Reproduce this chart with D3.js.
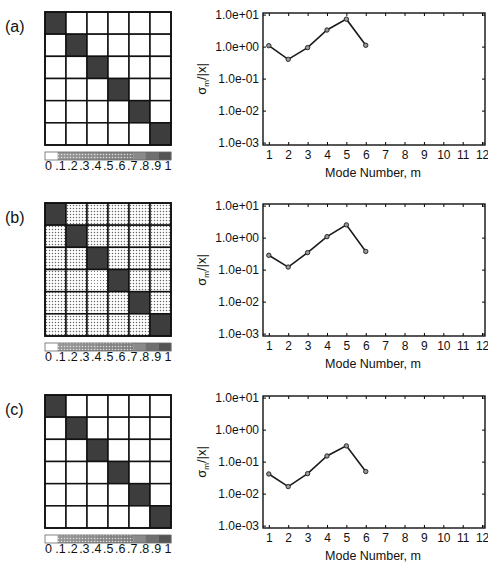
<!DOCTYPE html>
<html>
<head>
<meta charset="utf-8">
<script src="https://cdn.jsdelivr.net/npm/d3@7"></script>
<style>
  body { margin: 0; background: #fff; }
  text { font-family: "Liberation Sans", Arial, sans-serif; fill: #111; }
</style>
</head>
<body>
<script>
// values
var modes = [1, 2, 3, 4, 5, 6];
var sigmaA = [1.07, 0.40, 0.93, 3.3, 7.2, 1.1];
var sigmaB = [0.28, 0.12, 0.34, 1.07, 2.5, 0.37];
var sigmaC = [0.041, 0.0166, 0.042, 0.15, 0.31, 0.049];

var xTicks = [1, 2, 3, 4, 5, 6, 7, 8, 9, 10, 11, 12];
var yTicks = [1e-3, 1e-2, 1e-1, 1, 10];
var barTicks = [0, 0.1, 0.2, 0.3, 0.4, 0.5, 0.6, 0.7, 0.8, 0.9, 1];
var barLabels = ["0", ".1", ".2", ".3", ".4", ".5", ".6", ".7", ".8", ".9", "1"];
var panelNames = ["(a)", "(b)", "(c)"];

var matrixA = [
  [1, 0, 0, 0, 0, 0],
  [0, 1, 0, 0, 0, 0],
  [0, 0, 1, 0, 0, 0],
  [0, 0, 0, 1, 0, 0],
  [0, 0, 0, 0, 1, 0],
  [0, 0, 0, 0, 0, 1]
];
var matrixB = [
  [1, .25, .28, .27, .25, .27],
  [.25, 1, .27, .26, .24, .27],
  [.28, .27, 1, .22, .26, .27],
  [.27, .26, .18, 1, .20, .26],
  [.25, .26, .26, .22, 1, .21],
  [.26, .27, .26, .25, .20, 1]
];
var matrixC = [
  [1, .01, 0, 0, .01, 0],
  [.01, 1, .01, 0, 0, 0],
  [0, .01, 1, .01, 0, 0],
  [0, 0, .01, 1, .01, 0],
  [.01, 0, 0, .01, 1, .01],
  [0, 0, 0, 0, .01, 1]
];

var panels = [
  {name: panelNames[0], sigma: sigmaA, matrix: matrixA},
  {name: panelNames[1], sigma: sigmaB, matrix: matrixB},
  {name: panelNames[2], sigma: sigmaC, matrix: matrixC}
];

var W = 488, H = 562;
var panelTops = [13, 204, 396];
var boxH = 132;
var boxL = 263, boxR = 485;
var matL = 45, matR = 171;

var svg = d3.select("body").append("svg")
    .attr("width", W)
    .attr("height", H);

var defs = svg.append("defs");

// stipple patterns for the matrix cells, one per tenth
var bins = d3.range(10);
bins.forEach(function(b) {
  var v = (b + 0.5) / 10;
  var p = defs.append("pattern")
      .attr("id", "stip" + b)
      .attr("patternUnits", "userSpaceOnUse")
      .attr("width", 3)
      .attr("height", 3);
  p.append("rect").attr("width", 3).attr("height", 3).attr("fill", "#fff");
  p.append("circle")
      .attr("cx", 1.5).attr("cy", 1.5)
      .attr("r", Math.min(1.7, 3 * Math.sqrt(v / Math.PI) * 0.85))
      .attr("fill", "#666");
});
// colour-bar stipple: grey ground with light dots
bins.forEach(function(b) {
  var p = defs.append("pattern")
      .attr("id", "bar" + b)
      .attr("patternUnits", "userSpaceOnUse")
      .attr("width", 3)
      .attr("height", 3);
  p.append("rect").attr("width", 3).attr("height", 3)
      .attr("fill", d3.interpolateRgb("#9a9a9a", "#707070")(b / 9));
  p.append("circle")
      .attr("cx", 1.5).attr("cy", 1.5).attr("r", 0.8)
      .attr("fill", "#ddd");
});

function cellFill(v) {
  if (v < 0.05) return "#fff";
  if (v >= 0.95) return "#3d3d3d";
  if (v >= 0.7) return d3.interpolateRgb("#9a9a9a", "#4a4a4a")((v - 0.7) / 0.25);
  return "url(#stip" + Math.floor(v * 10) + ")";
}

function barFill(b) {
  if (b === 0) return "#fff";
  if (b >= 7) return d3.interpolateRgb("#8a8a8a", "#555")((b - 7) / 2);
  return "url(#bar" + b + ")";
}

function fmtExp(v) {
  var e = Math.round(Math.log10(v));
  var a = Math.abs(e);
  return "1.0e" + (e < 0 ? "-" : "+") + (a < 10 ? "0" : "") + a;
}

var x = d3.scaleLinear().domain([0.7, 12.15]).range([boxL, boxR]);

panels.forEach(function(pn, i) {
  var top = panelTops[i];
  var bottom = top + boxH;
  var g = svg.append("g");

  // panel letter
  g.append("text")
      .attr("x", 5)
      .attr("y", top + 19)
      .attr("font-size", 16)
      .text(pn.name);

  // correlation matrix
  var n = pn.matrix.length;
  var cx = d3.scaleBand().domain(d3.range(n)).range([matL, matR]);
  var cy = d3.scaleBand().domain(d3.range(n)).range([top - 1, bottom]);
  var cells = [];
  pn.matrix.forEach(function(row, r) {
    row.forEach(function(v, c) { cells.push({r: r, c: c, v: v}); });
  });
  g.selectAll(".cell").data(cells).enter().append("rect")
      .attr("x", function(d) { return cx(d.c); })
      .attr("y", function(d) { return cy(d.r); })
      .attr("width", cx.bandwidth())
      .attr("height", cy.bandwidth())
      .attr("fill", function(d) { return cellFill(d.v); })
      .attr("stroke", "#111")
      .attr("stroke-width", 1.5);
  g.append("rect")
      .attr("x", matL).attr("y", top - 1)
      .attr("width", matR - matL).attr("height", bottom - top + 1)
      .attr("fill", "none").attr("stroke", "#111").attr("stroke-width", 1.7);

  // colour bar
  var bx = d3.scaleLinear().domain([0, 1]).range([matL, matR]);
  g.selectAll(".seg").data(bins).enter().append("rect")
      .attr("x", function(b) { return bx(b / 10); })
      .attr("y", bottom + 7)
      .attr("width", bx(0.1) - bx(0) + 0.3)
      .attr("height", 8)
      .attr("fill", barFill);
  g.append("rect")
      .attr("x", matL).attr("y", bottom + 7)
      .attr("width", matR - matL).attr("height", 8)
      .attr("fill", "none").attr("stroke", "#666").attr("stroke-width", 0.8);

  var lx = d3.scaleLinear().domain([0, 1]).range([48.5, 168]);
  g.selectAll(".blab").data(barTicks).enter().append("text")
      .attr("x", function(d) { return lx(d); })
      .attr("y", bottom + 25)
      .attr("text-anchor", "middle")
      .attr("font-size", 12.5)
      .text(function(d, j) { return barLabels[j]; });

  // sigma plot
  var y = d3.scaleLog()
      .domain([Math.pow(10, -3.075), Math.pow(10, 1.05)])
      .range([bottom, top]);

  g.append("g")
      .attr("transform", "translate(" + boxL + ",0)")
      .call(d3.axisLeft(y).tickValues(yTicks).tickFormat(fmtExp).tickSize(-3).tickPadding(4))
      .call(function(a) {
        a.select(".domain").remove();
        a.selectAll("text").attr("font-size", 12).attr("fill", "#111")
            .style("font-family", "Liberation Sans, Arial, sans-serif");
      });
  g.append("g")
      .attr("transform", "translate(" + boxR + ",0)")
      .call(d3.axisRight(y).tickValues(yTicks).tickFormat("").tickSize(-3))
      .call(function(a) { a.select(".domain").remove(); });
  g.append("g")
      .attr("transform", "translate(0," + bottom + ")")
      .call(d3.axisBottom(x).tickValues(xTicks).tickFormat(d3.format("d")).tickSize(-3).tickPadding(5))
      .call(function(a) {
        a.select(".domain").remove();
        a.selectAll("text").attr("font-size", 12).attr("fill", "#111")
            .style("font-family", "Liberation Sans, Arial, sans-serif");
      });
  g.append("g")
      .attr("transform", "translate(0," + top + ")")
      .call(d3.axisTop(x).tickValues(xTicks).tickFormat("").tickSize(-3))
      .call(function(a) { a.select(".domain").remove(); });

  g.append("rect")
      .attr("x", boxL).attr("y", top)
      .attr("width", boxR - boxL).attr("height", boxH)
      .attr("fill", "none").attr("stroke", "#111").attr("stroke-width", 1.4);

  var pts = modes.map(function(m, j) { return {m: m, s: pn.sigma[j]}; });
  var line = d3.line()
      .x(function(d) { return x(d.m); })
      .y(function(d) { return y(d.s); });
  g.append("path")
      .datum(pts)
      .attr("fill", "none")
      .attr("stroke", "#1a1a1a")
      .attr("stroke-width", 1.6)
      .attr("d", line);
  g.selectAll(".pt").data(pts).enter().append("circle")
      .attr("cx", function(d) { return x(d.m); })
      .attr("cy", function(d) { return y(d.s); })
      .attr("r", 2.2)
      .attr("fill", "#999")
      .attr("stroke", "#1a1a1a")
      .attr("stroke-width", 0.9);

  // axis titles
  g.append("text")
      .attr("x", (boxL + boxR) / 2 - 1)
      .attr("y", bottom + 32)
      .attr("text-anchor", "middle")
      .attr("font-size", 12.5)
      .text("Mode Number, m");

  var yl = g.append("text")
      .attr("transform", "translate(206," + (top + boxH / 2) + ") rotate(-90)")
      .attr("text-anchor", "middle")
      .attr("font-size", 13);
  yl.append("tspan").text("σ");
  yl.append("tspan").attr("font-size", 8).attr("dy", 3).text("m");
  yl.append("tspan").attr("dy", -3).text("/|x|");
});
</script>
</body>
</html>
